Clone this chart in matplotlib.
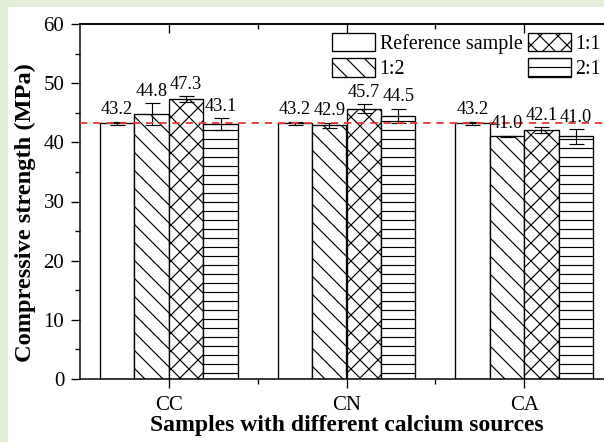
import matplotlib
matplotlib.use("Agg")
import matplotlib.pyplot as plt
from matplotlib.patches import Rectangle
from matplotlib.ticker import MultipleLocator, FixedLocator
import numpy as np

# Data
sources = ["CC", "CN", "CA"]
series = ["Reference sample", "1:2", "1:1", "2:1"]
strength = {
    "Reference sample": [43.2, 43.2, 43.2],
    "1:2": [44.8, 42.9, 41.0],
    "1:1": [47.3, 45.7, 42.1],
    "2:1": [43.1, 44.5, 41.0],
}
errors = {
    "Reference sample": [0.3, 0.3, 0.3],
    "1:2": [1.8, 0.4, 0.15],
    "1:1": [0.5, 0.7, 0.5],
    "2:1": [1.0, 1.2, 1.2],
}
reference_level = 43.2
hatches = {"Reference sample": "", "1:2": "\\\\", "1:1": "xx", "2:1": "--"}

DPI = 108
k = 120 / DPI  # keeps sizes constant in pixels


def pt(v):
    return v * k


plt.rcParams["font.family"] = ["Liberation Serif", "DejaVu Serif"]
plt.rcParams["hatch.linewidth"] = pt(0.7)

fig = plt.figure(figsize=(604 / DPI, 442 / DPI), dpi=DPI)
fig.patch.set_facecolor("#e3eed9")
fig.add_artist(Rectangle((8 / 604, 0), 1, 1 - 7 / 442, transform=fig.transFigure,
                         facecolor="white", edgecolor="none", zorder=-10))

ax = fig.add_axes([80 / 604, 63 / 442, 533 / 604, 355 / 442])
ax.set_facecolor("none")

x = np.arange(len(sources))
w = 0.194
for i, s in enumerate(series):
    pos = x + (i - 1.5) * w
    ax.bar(pos, strength[s], width=w, color="white", edgecolor="black",
           linewidth=pt(0.8), hatch=hatches[s], label=s, zorder=2)
    ax.errorbar(pos, strength[s], yerr=errors[s], fmt="none", ecolor="black",
                elinewidth=pt(0.7), capsize=pt(4.5), capthick=pt(0.7), zorder=3)
    for p, v, e in zip(pos, strength[s], errors[s]):
        ax.annotate(f"{v:.1f}", (p, v + e), xytext=(0, pt(2.0)), textcoords="offset points",
                    ha="center", va="bottom", fontsize=pt(11), zorder=5)

ax.axhline(reference_level, color="#e8383a", linestyle=(0, (4, 3.2)),
           linewidth=pt(1.1), zorder=4)

ax.set_xlim(-0.5, 2.5)
ax.set_ylim(0, 60)
ax.set_xticks(x)
ax.set_xticklabels(sources)
ax.xaxis.set_minor_locator(FixedLocator([0.5, 1.5]))
ax.yaxis.set_major_locator(MultipleLocator(10))
ax.yaxis.set_minor_locator(MultipleLocator(5))
ax.tick_params(axis="both", which="major", direction="out", length=pt(5.4), width=pt(0.8),
               labelsize=pt(12.5))
ax.tick_params(axis="y", which="major", pad=pt(4))
ax.tick_params(axis="x", which="major", pad=pt(4.5))
ax.tick_params(axis="both", which="minor", direction="out", length=pt(2.7), width=pt(0.8))
for sp in ax.spines.values():
    sp.set_linewidth(pt(0.9))

# Mirrored inward ticks on the top and right edges
top = ax.secondary_xaxis("top")
top.set_xticks(x)
top.xaxis.set_minor_locator(FixedLocator([0.5, 1.5]))
top.tick_params(which="major", direction="in", length=pt(5.4), width=pt(0.8), labeltop=False)
top.tick_params(which="minor", direction="in", length=pt(2.7), width=pt(0.8))
right = ax.secondary_yaxis("right")
right.yaxis.set_major_locator(MultipleLocator(10))
right.yaxis.set_minor_locator(MultipleLocator(5))
right.tick_params(which="major", direction="in", length=pt(5.4), width=pt(0.8),
                  labelright=False)
right.tick_params(which="minor", direction="in", length=pt(2.7), width=pt(0.8))
for sec in (top, right):
    for sp in sec.spines.values():
        sp.set_linewidth(pt(0.9))

ax.set_ylabel("Compressive strength (MPa)", fontsize=pt(14.6), fontweight="bold")
ax.yaxis.set_label_coords(-0.082, 0.468)
ax.set_xlabel("Samples with different calcium sources", fontsize=pt(14.2), fontweight="bold",
              labelpad=0)

ax.legend(loc="upper right", bbox_to_anchor=(0.9775, 0.975), ncol=2, frameon=False,
          fontsize=pt(12), handlelength=2.15, handleheight=1.05, handletextpad=0.25,
          columnspacing=0.25, labelspacing=0.2, borderaxespad=0.0, borderpad=0.0)

fig.savefig("out.png", dpi=DPI, facecolor=fig.get_facecolor())
